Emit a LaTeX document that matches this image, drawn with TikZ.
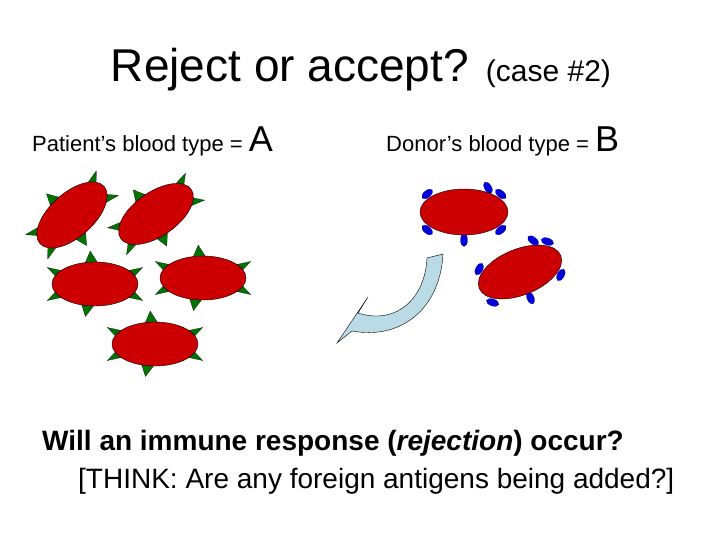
\documentclass[tikz,border=0pt]{standalone}
\usepackage{fontspec}
\setmainfont{Liberation Sans}
\tikzstyle{cellBody}=[fill=red!80!black,draw=black,thin]
\tikzstyle{spikeA}=[fill=green!45!black,draw=black,very thin]
\tikzstyle{spikeB}=[fill=blue!85!black,draw=blue!60!black,very thin]
\tikzstyle{txt}=[anchor=base west,inner sep=0pt]
% cell with green triangular antigens: x, y, rotation
\newcommand{\cellA}[3]{
  \begin{scope}[shift={(#1,#2)},rotate=#3]
    \foreach \a in {30,100,150,210,265,330}{
      \fill[spikeA] ({43*cos(\a-8)},{22*sin(\a-8)}) -- ({55*cos(\a)},{33*sin(\a)}) -- ({43*cos(\a+8)},{22*sin(\a+8)}) -- cycle;
    }
    \draw[cellBody] (0,0) ellipse (43 and 22);
  \end{scope}}
% cell with blue rounded antigens
\newcommand{\cellB}[3]{
  \begin{scope}[shift={(#1,#2)},rotate=#3]
    \foreach \a in {40,90,140,220,300,320}{
      \fill[spikeB,rotate around={\a:({48*cos(\a)},{28*sin(\a)})}] ({48*cos(\a)},{28*sin(\a)}) ellipse (6.5 and 3.5);
    }
    \draw[cellBody] (0,0) ellipse (44 and 23);
  \end{scope}}
\begin{document}
\begin{tikzpicture}[x=1pt,y=-1pt]
  \useasboundingbox (0,0) rectangle (720,540);
  % heading
  \node[anchor=base,inner sep=0pt] (title) at (361,82) {\fontsize{46}{50}\selectfont Reject or accept? \fontsize{30}{34}\selectfont (case \#2)};
  \node[txt] (patient) at (32,152) {\fontsize{22}{26}\selectfont Patient’s blood type = \fontsize{36}{40}\selectfont A};
  \node[txt] (donor) at (386,152) {\fontsize{22}{26}\selectfont Donor’s blood type = \fontsize{36}{40}\selectfont B};
  % patient cells
  \cellA{72}{215}{42}
  \cellA{156}{214}{35}
  \cellA{95}{284}{0}
  \cellA{203}{278}{0}
  \cellA{155}{344}{0}
  % donor cells
  \cellB{464}{212}{0}
  \cellB{520}{272}{22}
  % arrow
  \draw[fill=cyan!25!white!80!gray,draw=black,thin] (443,254) .. controls (440,310) and (400,340) .. (352,331)
     -- (337,343) -- (368,297) -- (358,313) .. controls (395,325) and (425,300) .. (427,258) -- cycle;
  % question
  \node[txt] (q1) at (42,450) {\fontsize{28}{32}\selectfont\bfseries Will an immune response (\textit{rejection}) occur?};
  \node[txt] (q2) at (78,488) {\fontsize{28}{32}\selectfont [THINK: Are any foreign antigens being added?]};
\end{tikzpicture}
\end{document}
